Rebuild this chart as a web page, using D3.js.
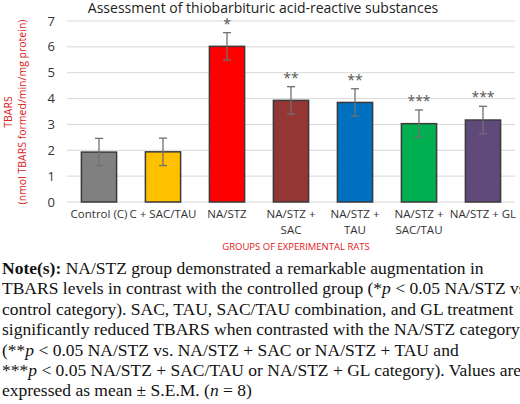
<!DOCTYPE html>
<html>
<head>
<meta charset="utf-8">
<script src="https://cdn.jsdelivr.net/npm/d3@7"></script>
<style>
  body { margin: 0; background: #fff; }
  .note { position: absolute; left: 2px; top: 258px; width: 518px; font-family: "Liberation Serif", serif; font-size: 17.5px; line-height: 20.4px; color: #111; white-space: nowrap; }
</style>
</head>
<body>
<svg id="chart" width="520" height="252"></svg>
<div class="note"><b>Note(s):</b> NA/STZ group demonstrated a remarkable augmentation in<br>TBARS levels in contrast with the controlled group (*<i>p</i> &lt; 0.05 NA/STZ vs.<br>control category). SAC, TAU, SAC/TAU combination, and GL treatment<br>significantly reduced TBARS when contrasted with the NA/STZ category<br>(**<i>p</i> &lt; 0.05 NA/STZ vs. NA/STZ + SAC or NA/STZ + TAU and<br>***<i>p</i> &lt; 0.05 NA/STZ + SAC/TAU or NA/STZ + GL category). Values are<br>expressed as mean ± S.E.M. (<i>n</i> = 8)</div>
<script>
"use strict";

// chart data
var groups = [["Control (C)"], ["C + SAC/TAU"], ["NA/STZ"], ["NA/STZ +", "SAC"], ["NA/STZ +", "TAU"], ["NA/STZ +", "SAC/TAU"], ["NA/STZ + GL"]];
var values = [1.93, 1.94, 6.02, 3.93, 3.85, 3.03, 3.17];
var errors = [0.53, 0.53, 0.53, 0.53, 0.53, 0.53, 0.53];
var stars = ["", "", "*", "**", "**", "***", "***"];
var colors = ["#808080", "#ffc000", "#ff0000", "#943634", "#0070c0", "#00b050", "#604a7b"];
var yTicks = [0, 1, 2, 3, 4, 5, 6, 7];

var svg = d3.select("#chart");
var margin = { left: 67, right: 5, top: 21 };
var width = 520 - margin.left - margin.right;
var height = 202 - margin.top;

var g = svg.append("g").attr("transform", "translate(" + margin.left + "," + margin.top + ")");

var x = d3.scaleBand().domain(d3.range(values.length)).range([0, width]).paddingInner(0.45).paddingOuter(0.225);
var y = d3.scaleLinear().domain([0, 7]).range([height, 0]);

// gridlines
g.selectAll(".grid").data(yTicks).enter().append("line")
    .attr("x1", 0).attr("x2", width)
    .attr("y1", function (d) { return y(d); }).attr("y2", function (d) { return y(d); })
    .attr("stroke", "#d9d9d9").attr("stroke-width", 1);

// y axis labels
g.selectAll(".ytick").data(yTicks).enter().append("text")
    .attr("x", -12).attr("y", function (d) { return y(d); }).attr("dy", "0.35em")
    .attr("text-anchor", "end").attr("font-family", "Open Sans, sans-serif").attr("font-size", 13).attr("fill", "#333")
    .text(function (d) { return d; });

// bars
g.selectAll(".bar").data(values).enter().append("rect")
    .attr("x", function (d, i) { return x(i); })
    .attr("y", function (d) { return y(d); })
    .attr("width", x.bandwidth())
    .attr("height", function (d) { return height - y(d); })
    .attr("fill", function (d, i) { return colors[i]; })
    .attr("stroke", "#3a3a3a").attr("stroke-width", 1.5);

// error bars
var eb = g.selectAll(".err").data(values).enter().append("g")
    .attr("stroke", "#707070").attr("stroke-width", 1.3);
eb.append("line")
    .attr("x1", function (d, i) { return x(i) + x.bandwidth() / 2; })
    .attr("x2", function (d, i) { return x(i) + x.bandwidth() / 2; })
    .attr("y1", function (d, i) { return y(d - errors[i]); })
    .attr("y2", function (d, i) { return y(d + errors[i]); });
[-1, 1].forEach(function (s) {
    eb.append("line")
        .attr("x1", function (d, i) { return x(i) + x.bandwidth() / 2 - 4; })
        .attr("x2", function (d, i) { return x(i) + x.bandwidth() / 2 + 4; })
        .attr("y1", function (d, i) { return y(d + s * errors[i]); })
        .attr("y2", function (d, i) { return y(d + s * errors[i]); });
});

// significance stars
g.selectAll(".star").data(values).enter().append("text")
    .attr("x", function (d, i) { return x(i) + x.bandwidth() / 2; })
    .attr("y", function (d, i) { return y(d + errors[i]) - 4; })
    .attr("text-anchor", "middle").attr("font-family", "Open Sans, sans-serif").attr("font-size", 14).attr("fill", "#555")
    .text(function (d, i) { return stars[i]; });

// x labels
var xl = g.selectAll(".xl").data(groups).enter().append("text")
    .attr("text-anchor", "middle").attr("font-family", "Open Sans, sans-serif").attr("font-size", 11.5).attr("fill", "#333");
xl.each(function (lines, i) {
    var t = d3.select(this);
    lines.forEach(function (l, k) {
        t.append("tspan").attr("x", x(i) + x.bandwidth() / 2).attr("y", height + 16 + k * 16).text(l);
    });
});

// titles
svg.append("text").attr("x", 263).attr("y", 13).attr("text-anchor", "middle")
    .attr("font-family", "Open Sans, sans-serif").attr("font-size", 14).attr("fill", "#222")
    .text("Assessment of thiobarbituric acid-reactive substances");
svg.append("text").attr("x", 296).attr("y", 250).attr("text-anchor", "middle")
    .attr("font-family", "Open Sans, sans-serif").attr("font-size", 9.5).attr("fill", "#e02020")
    .text("GROUPS OF EXPERIMENTAL RATS");
var yl = svg.append("text").attr("transform", "translate(12,112) rotate(-90)").attr("text-anchor", "middle")
    .attr("font-family", "Open Sans, sans-serif").attr("font-size", 10.5).attr("fill", "#e02020");
yl.append("tspan").attr("x", 0).attr("y", 0).text("TBARS");
yl.append("tspan").attr("x", 0).attr("y", 14).text("(nmol TBARS formed/min/mg protein)");
</script>
</body>
</html>
